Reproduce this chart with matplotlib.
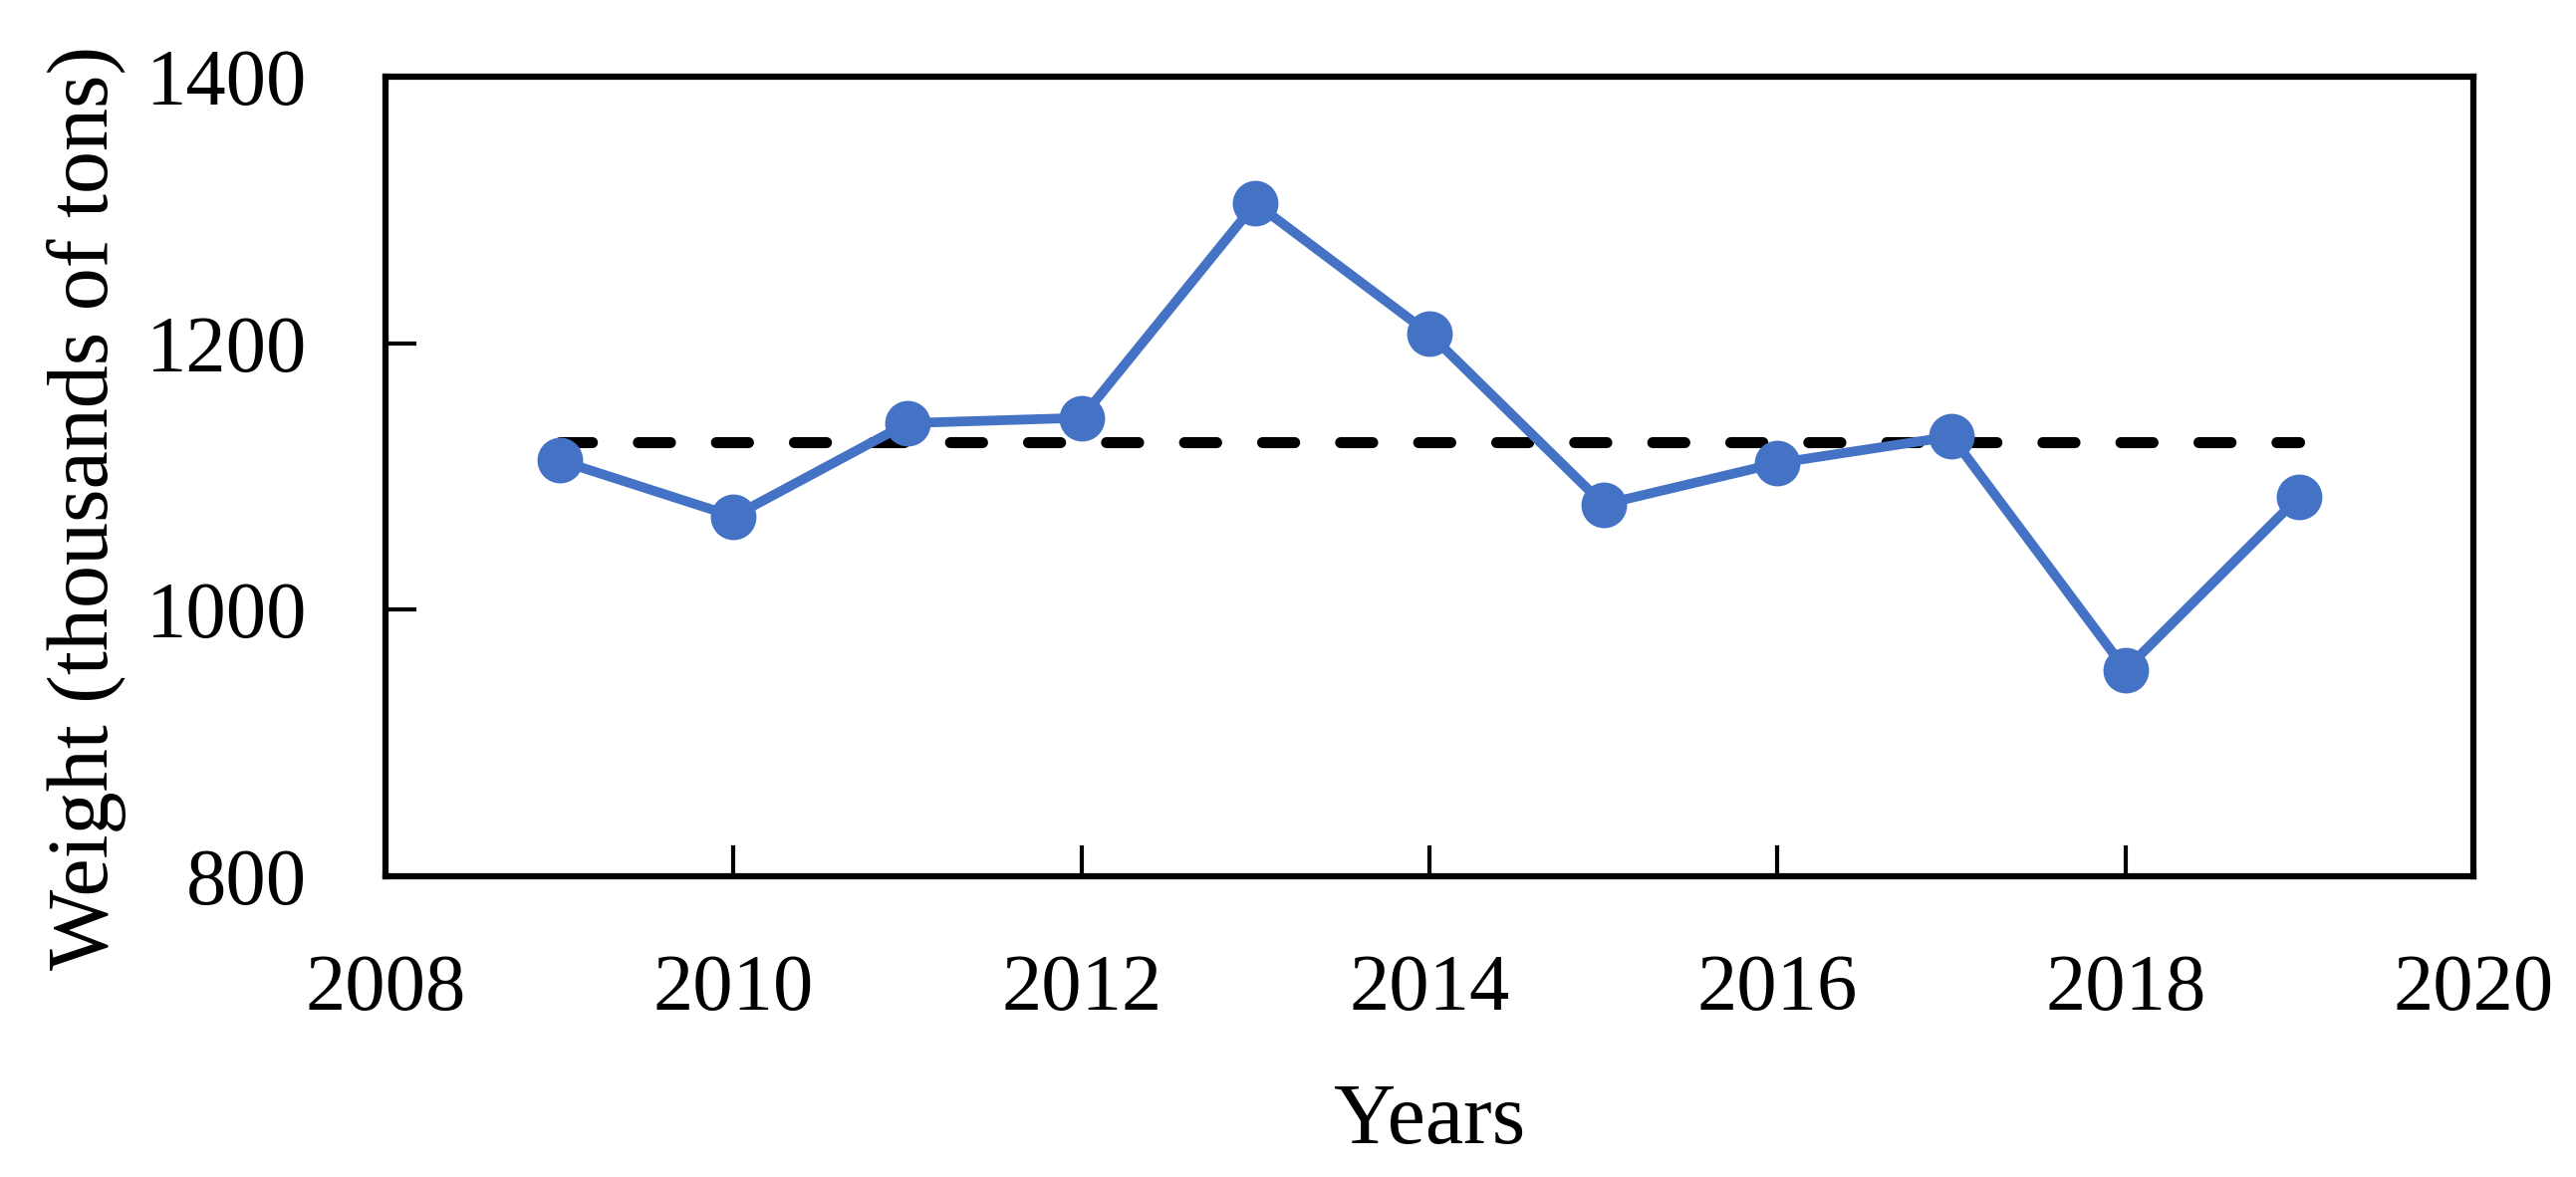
import matplotlib
matplotlib.use("Agg")
import matplotlib.pyplot as plt

# values
years = [2009, 2010, 2011, 2012, 2013, 2014, 2015, 2016, 2017, 2018, 2019]
weight = [1112, 1070, 1140, 1144, 1305, 1207, 1079, 1110, 1130, 955, 1085]
mean_weight = 1126
x_ticks = [2008, 2010, 2012, 2014, 2016, 2018, 2020]
y_ticks = [800, 1000, 1200, 1400]

plt.rcParams['font.family'] = ['Liberation Serif', 'DejaVu Serif']
plt.rcParams['font.size'] = 58

fig = plt.figure(figsize=(25.86, 11.82), dpi=100)
ax = fig.add_axes([0.1497, 0.2555, 0.8105, 0.6794])

ax.plot(years, weight, color='#4472C4', linewidth=7, marker='o',
        markersize=32, zorder=3)
ax.plot([years[0], years[-1]], [mean_weight, mean_weight], color='black',
        linewidth=8, linestyle=(0, (2.9, 4.15)), dash_capstyle='round',
        zorder=2)

ax.set_xlim(2008, 2020)
ax.set_ylim(800, 1400)
ax.set_xticks(x_ticks)
ax.set_yticks(y_ticks)

for sp in ax.spines.values():
    sp.set_linewidth(4.5)

ax.tick_params(axis='both', direction='in', length=22, width=3, labelsize=58)
ax.tick_params(axis='x', pad=56)
ax.tick_params(axis='y', pad=57)

ax.set_xlabel('Years', fontsize=62)
ax.set_ylabel('Weight (thousands of tons)', fontsize=62)
ax.xaxis.set_label_coords(0.5, -0.258)
ax.yaxis.set_label_coords(-0.1243, 0.4607)

fig.savefig('out.png', dpi=100)
